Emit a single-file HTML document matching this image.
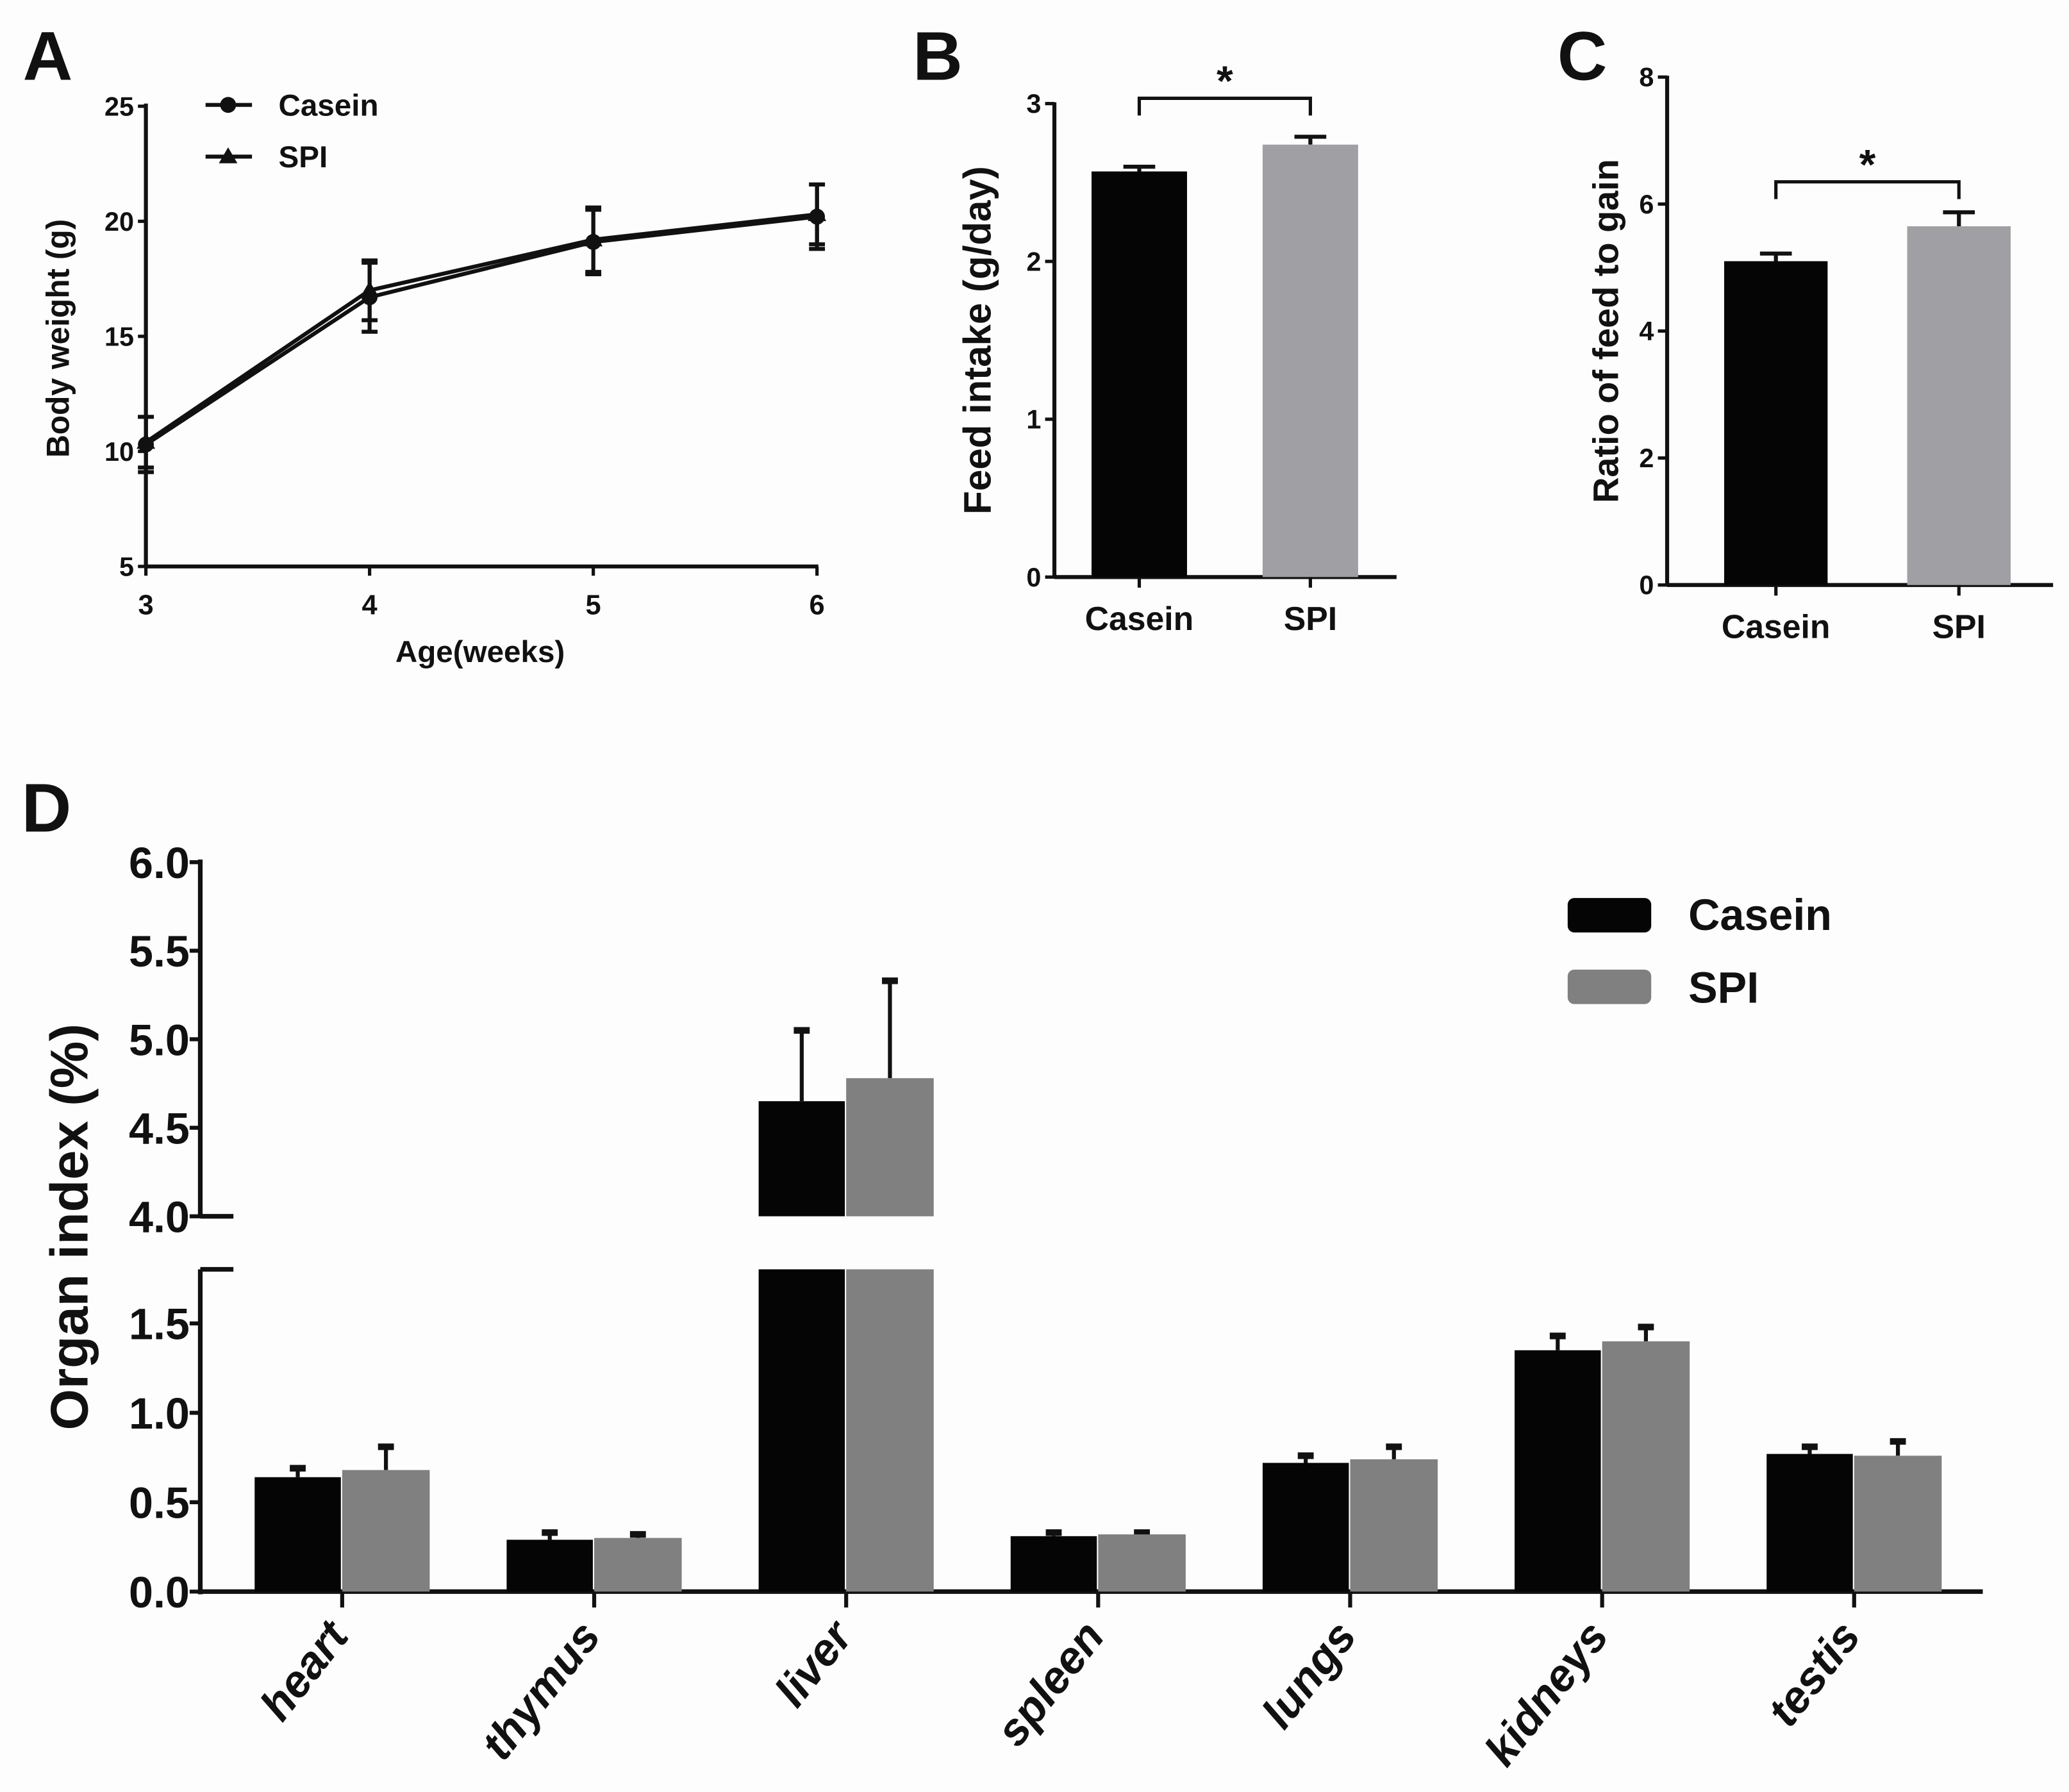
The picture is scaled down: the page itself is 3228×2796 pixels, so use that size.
<!DOCTYPE html>
<html><head><meta charset="utf-8"><style>
html,body{margin:0;padding:0;background:#fff}
svg{display:block}
text{font-family:"Liberation Sans",Arial,sans-serif;font-weight:bold;fill:#111}
</style></head><body>
<svg id="fig" xmlns="http://www.w3.org/2000/svg" width="3228" height="2796" viewBox="0 0 1560 1351">
<rect x="0" y="0" width="1560" height="1351" fill="#fdfdfd"/>
<g id="gA"></g>
<g id="gB"></g>
<g id="gC"></g>
<g id="gD"></g>
</svg>
<script>
// Panel A data
const weeks = [3, 4, 5, 6];
const caseinWeight = [10.3, 16.7, 19.1, 20.2];
const caseinWeightErr = [1.2, 1.5, 1.4, 1.4];
const spiWeight = [10.4, 17.0, 19.2, 20.3];
const spiWeightErr = [1.1, 1.3, 1.4, 1.3];
const aYTicks = [5, 10, 15, 20, 25];
// Panel B data
const groups = ["Casein", "SPI"];
const feedIntake = [2.57, 2.74];
const feedIntakeErr = [0.03, 0.05];
const bYTicks = [0, 1, 2, 3];
// Panel C data
const feedToGain = [5.1, 5.65];
const feedToGainErr = [0.12, 0.22];
const cYTicks = [0, 2, 4, 6, 8];
// Panel D data
const organs = ["heart", "thymus", "liver", "spleen", "lungs", "kidneys", "testis"];
const caseinOrgan = [0.64, 0.29, 4.65, 0.31, 0.72, 1.35, 0.77];
const caseinOrganErr = [0.05, 0.04, 0.40, 0.02, 0.04, 0.08, 0.04];
const spiOrgan = [0.68, 0.30, 4.78, 0.32, 0.74, 1.40, 0.76];
const spiOrganErr = [0.13, 0.02, 0.55, 0.01, 0.07, 0.08, 0.08];
const dLowTicks = ["0.0", "0.5", "1.0", "1.5"];
const dHighTicks = ["4.0", "4.5", "5.0", "5.5", "6.0"];

const NS = "http://www.w3.org/2000/svg";
function mk(parent, tag, attrs, txt) {
  const e = document.createElementNS(NS, tag);
  for (const k in attrs) e.setAttribute(k, attrs[k]);
  if (txt !== undefined) e.textContent = txt;
  parent.appendChild(e);
  return e;
}
function ln(p, x1, y1, x2, y2, w, name) {
  const e = mk(p, "line", {x1, y1, x2, y2, stroke: "#111", "stroke-width": w || 2.5});
  
  
  return e;
}
function tx(p, x, y, s, size, anchor, name, extra) {
  const a = {x, y, "font-size": size, "text-anchor": anchor || "middle"};
  if (extra) for (const k in extra) a[k] = extra[k];
  const e = mk(p, "text", a, s);
  
  
  return e;
}

// ---------- Panel A ----------
(function(){
  const g = document.getElementById("gA");
  const X = w => 110 + (w - 3) * (506 / 3);
  const Y = v => 427 - (v - 5) * (347 / 20);
  tx(g, 36, 60, "A", 52, "middle", "panel-label-a");
  ln(g, 110, 78, 110, 428, 3, "y-axis");
  ln(g, 109, 427, 617, 427, 3, "x-axis");
  aYTicks.forEach(t => {
    ln(g, 104, Y(t), 110, Y(t), 2.5, "y-tick");
    tx(g, 101, Y(t) + 7, String(t), 20, "end", "y-tick-label");
  });
  weeks.forEach(w => {
    ln(g, X(w), 427, X(w), 434, 2.5, "x-tick");
    tx(g, X(w), 463, String(w), 21, "middle", "x-tick-label");
  });
  tx(g, 362, 499, "Age(weeks)", 23, "middle", "x-axis-title");
  tx(g, 0, 0, "Body weight (g)", 24, "middle", "y-axis-title", {transform: "translate(52,255) rotate(-90)"});
  function series(vals, errs, name, marker) {
    const pts = vals.map((v, i) => X(weeks[i]) + "," + Y(v)).join(" ");
    const pl = mk(g, "polyline", {points: pts, fill: "none", stroke: "#111", "stroke-width": 3});
    
    
    vals.forEach((v, i) => {
      const x = X(weeks[i]);
      ln(g, x, Y(v + errs[i]), x, Y(v - errs[i]), 3, name + "-error-bar");
      ln(g, x - 6, Y(v + errs[i]), x + 6, Y(v + errs[i]), 3, name + "-error-cap");
      ln(g, x - 6, Y(v - errs[i]), x + 6, Y(v - errs[i]), 3, name + "-error-cap");
      let m;
      if (marker === "circle") m = mk(g, "circle", {cx: x, cy: Y(v), r: 6, fill: "#111"});
      else m = mk(g, "polygon", {points: `${x},${Y(v)-7} ${x-7},${Y(v)+5} ${x+7},${Y(v)+5}`, fill: "#111"});
      
      
    });
  }
  series(spiWeight, spiWeightErr, "spi", "tri");
  series(caseinWeight, caseinWeightErr, "casein", "circle");
  ln(g, 155, 79, 190, 79, 3, "legend-casein-line");
  let c = mk(g, "circle", {cx: 172, cy: 79, r: 6, fill: "#111"});
  
  
  tx(g, 210, 87, "Casein", 23, "start", "legend-casein-label");
  ln(g, 155, 118, 190, 118, 3, "legend-spi-line");
  let t = mk(g, "polygon", {points: "172,111 165,123 179,123", fill: "#111"});
  
  
  tx(g, 210, 126, "SPI", 23, "start", "legend-spi-label");
})();

// ---------- Bar panels B & C ----------
function barPanel(gid, opt) {
  const g = document.getElementById(gid);
  const Y = v => opt.y0 - v * (opt.y0 - opt.yTop) / opt.yMax;
  tx(g, opt.lx, 60, opt.label, 52, "middle", "panel-label-" + opt.label.toLowerCase());
  ln(g, opt.ax, opt.yTop - 1, opt.ax, opt.y0 + 1, 3, "y-axis");
  ln(g, opt.ax, opt.y0, opt.xEnd, opt.y0, 3, "x-axis");
  opt.ticks.forEach(t => {
    ln(g, opt.ax - 7, Y(t), opt.ax, Y(t), 2.5, "y-tick");
    tx(g, opt.ax - 10, Y(t) + 7, String(t), 20, "end", "y-tick-label");
  });
  const colors = ["#050505", opt.spiColor];
  opt.vals.forEach((v, i) => {
    const x0 = opt.bx[i], w = opt.bw, cx = x0 + w / 2;
    ln(g, cx, Y(v), cx, Y(v + opt.errs[i]), 3, "error-bar-" + groups[i].toLowerCase());
    ln(g, cx - 12, Y(v + opt.errs[i]), cx + 12, Y(v + opt.errs[i]), 3, "error-cap-" + groups[i].toLowerCase());
    const r = mk(g, "rect", {x: x0, y: Y(v), width: w, height: opt.y0 - Y(v), fill: colors[i]});
    
    
    ln(g, cx, opt.y0, cx, opt.y0 + 8, 2.5, "x-tick");
    tx(g, cx, opt.y0 + 40, groups[i], 25, "middle", "x-tick-label");
  });
  const c1 = opt.bx[0] + opt.bw / 2, c2 = opt.bx[1] + opt.bw / 2;
  const p = mk(g, "polyline", {points: `${c1},${opt.brY+13} ${c1},${opt.brY} ${c2},${opt.brY} ${c2},${opt.brY+13}`, fill: "none", stroke: "#111", "stroke-width": 2.5});
  
  
  tx(g, (c1 + c2) / 2, opt.brY - 2, "*", 32, "middle", "significance-star");
  tx(g, 0, 0, opt.title, opt.titleSize, "middle", "y-axis-title", {transform: `translate(${opt.tx},${(opt.yTop + opt.y0) / 2}) rotate(-90)`});
}
barPanel("gB", {label: "B", lx: 707, ax: 795, yTop: 78, y0: 435, yMax: 3, xEnd: 1053, ticks: bYTicks,
  vals: feedIntake, errs: feedIntakeErr, bx: [823, 952], bw: 72, spiColor: "#a09fa4", brY: 74,
  title: "Feed intake (g/day)", titleSize: 29, tx: 747});
barPanel("gC", {label: "C", lx: 1193, ax: 1257, yTop: 58, y0: 441, yMax: 8, xEnd: 1548, ticks: cYTicks,
  vals: feedToGain, errs: feedToGainErr, bx: [1300, 1438], bw: 78, spiColor: "#a09fa4", brY: 137,
  title: "Ratio of feed to gain", titleSize: 27, tx: 1220});

// ---------- Panel D ----------
(function(){
  const g = document.getElementById("gD");
  const ax = 151, y0 = 1200;
  const low = v => y0 - v * 134.8;
  const high = v => 917 - (v - 4) * 133.5;
  tx(g, 35, 627, "D", 52, "middle", "panel-label-d");
  ln(g, ax, 648, ax, 918, 3.5, "y-axis-upper");
  ln(g, ax, 957, ax, y0 + 2, 3.5, "y-axis-lower");
  ln(g, ax - 1, y0, 1495, y0, 3.5, "x-axis");
  ln(g, ax, 917, ax + 25, 917, 3.5, "axis-break-upper");
  ln(g, ax, 957, ax + 25, 957, 3.5, "axis-break-lower");
  dHighTicks.forEach(t => {
    ln(g, ax - 8, high(+t), ax, high(+t), 3, "y-tick");
    tx(g, ax - 8, high(+t) + 12, t, 33, "end", "y-tick-label");
  });
  dLowTicks.forEach(t => {
    ln(g, ax - 8, low(+t), ax, low(+t), 3, "y-tick");
    tx(g, ax - 8, low(+t) + 12, t, 33, "end", "y-tick-label");
  });
  tx(g, 0, 0, "Organ index (%)", 40, "middle", "y-axis-title", {transform: "translate(66,925) rotate(-90)"});
  function yv(v) { return v >= 4 ? high(v) : low(Math.min(v, 1.8)); }
  function drawBar(v, e, x0, w, color, name) {
    const cx = x0 + w / 2;
    const top = yv(v + e);
    ln(g, cx, yv(v), cx, top, 3, name + "-error-bar");
    ln(g, cx - 6, top, cx + 6, top, 5, name + "-error-cap");
    if (v > 1.8) {
      let r1 = mk(g, "rect", {x: x0, y: high(v), width: w, height: 917 - high(v), fill: color});
      
      
      let r2 = mk(g, "rect", {x: x0, y: 957, width: w, height: y0 - 957, fill: color});
      
      
    } else {
      let r = mk(g, "rect", {x: x0, y: low(v), width: w, height: y0 - low(v), fill: color});
      
      
    }
  }
  organs.forEach((o, i) => {
    const c = 258 + i * 190;
    drawBar(caseinOrgan[i], caseinOrganErr[i], c - 66, 65, "#050505", "bar-casein-" + o);
    drawBar(spiOrgan[i], spiOrganErr[i], c, 66, "#808080", "bar-spi-" + o);
    ln(g, c, y0, c, y0 + 12, 3, "x-tick");
    tx(g, 0, 0, o, 34, "end", "x-tick-label", {transform: `translate(${c + 6},${y0 + 34}) rotate(-52)`, "font-style": "italic"});
  });
  let l1 = mk(g, "rect", {x: 1182, y: 677, width: 63, height: 26, rx: 5, fill: "#050505"});
  
  
  tx(g, 1273, 701, "Casein", 33, "start", "legend-casein-label");
  let l2 = mk(g, "rect", {x: 1182, y: 731, width: 63, height: 26, rx: 5, fill: "#808080"});
  
  
  tx(g, 1273, 756, "SPI", 33, "start", "legend-spi-label");
})();
</script>
</body></html>
